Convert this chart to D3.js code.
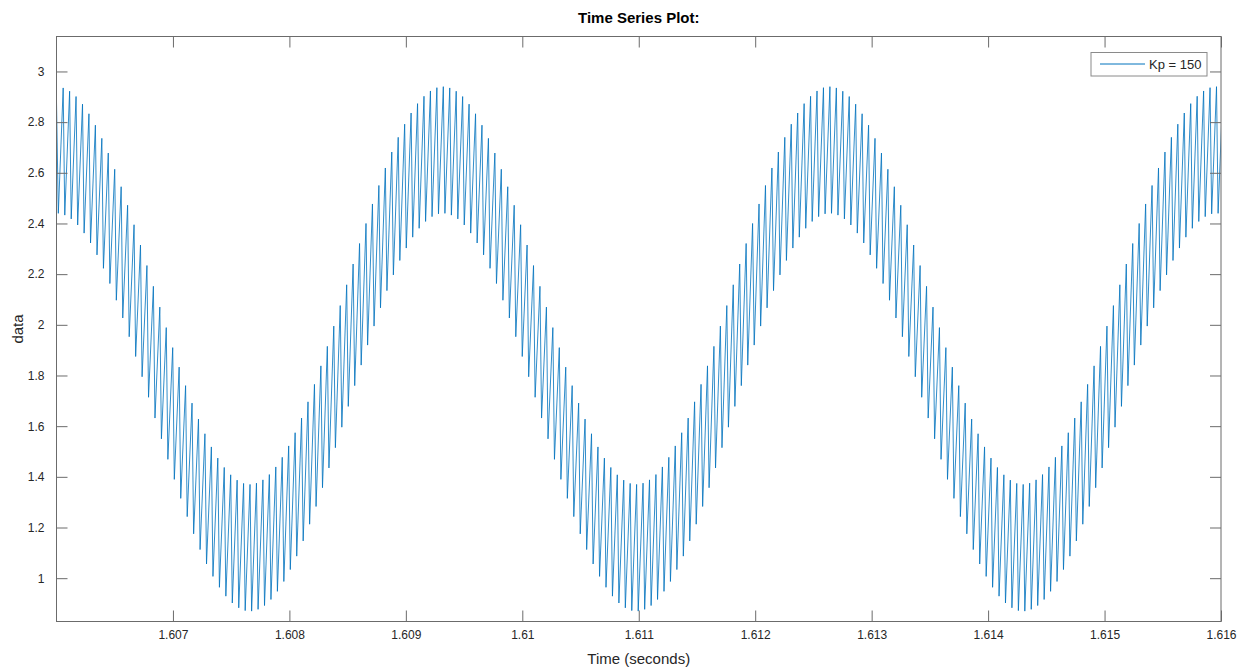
<!DOCTYPE html>
<html>
<head>
<meta charset="utf-8">
<script src="https://cdn.jsdelivr.net/npm/d3@7"></script>
<style>
  body { margin: 0; background: #fff; }
  svg { display: block; font-family: "Liberation Sans", Arial, sans-serif; }
</style>
</head>
<body>
<div id="chart"></div>
<script>
// Time base of the recorded series (seconds)
const startTime = 1.606;
const startValue = 2.88;
const firstTroughTime = 1.6060157;
const cyclePeriod = 5.533e-5;
const riseTime = 4.16e-5;

// Trough values, one per fast cycle
const troughValues = [
  2.440,
  2.433, 2.418, 2.394, 2.362, 2.323, 2.276, 2.223, 2.163, 2.097, 2.027,
  1.953, 1.875, 1.795, 1.714, 1.632, 1.550, 1.469, 1.390, 1.315, 1.243,
  1.175, 1.113, 1.056, 1.007, 0.964, 0.929, 0.902, 0.883, 0.872, 0.870,
  0.877, 0.892, 0.916, 0.948, 0.987, 1.034, 1.087, 1.147, 1.213, 1.283,
  1.357, 1.435, 1.515, 1.596, 1.678, 1.760, 1.841, 1.920, 1.995, 2.067,
  2.135, 2.197, 2.254, 2.303, 2.346, 2.381, 2.408, 2.427, 2.438, 2.440,
  2.433, 2.418, 2.394, 2.362, 2.323, 2.276, 2.223, 2.163, 2.097, 2.027,
  1.953, 1.875, 1.795, 1.714, 1.632, 1.550, 1.469, 1.390, 1.315, 1.243,
  1.175, 1.113, 1.056, 1.007, 0.964, 0.929, 0.902, 0.883, 0.872, 0.870,
  0.877, 0.892, 0.916, 0.948, 0.987, 1.034, 1.087, 1.147, 1.213, 1.283,
  1.357, 1.435, 1.515, 1.596, 1.678, 1.760, 1.841, 1.920, 1.995, 2.067,
  2.135, 2.197, 2.254, 2.303, 2.346, 2.381, 2.408, 2.427, 2.438, 2.440,
  2.433, 2.418, 2.394, 2.362, 2.323, 2.276, 2.223, 2.163, 2.097, 2.027,
  1.953, 1.875, 1.795, 1.714, 1.632, 1.550, 1.469, 1.390, 1.315, 1.243,
  1.175, 1.113, 1.056, 1.007, 0.964, 0.929, 0.902, 0.883, 0.872, 0.870,
  0.877, 0.892, 0.916, 0.948, 0.987, 1.034, 1.087, 1.147, 1.213, 1.283,
  1.357, 1.435, 1.515, 1.596, 1.678, 1.760, 1.841, 1.920, 1.995, 2.067,
  2.135, 2.197, 2.254, 2.303, 2.346, 2.381, 2.408, 2.427, 2.438, 2.440
];

// Peak values, one per fast cycle
const peakValues = [
  2.935, 2.922, 2.901, 2.871, 2.833, 2.788, 2.736, 2.678, 2.614, 2.545,
  2.472, 2.395, 2.315, 2.234, 2.152, 2.070, 1.989, 1.910, 1.833, 1.760,
  1.691, 1.628, 1.570, 1.518, 1.474, 1.437, 1.408, 1.387, 1.374, 1.370,
  1.375, 1.388, 1.409, 1.439, 1.477, 1.522, 1.574, 1.632, 1.696, 1.765,
  1.838, 1.915, 1.995, 2.076, 2.158, 2.240, 2.321, 2.400, 2.477, 2.550,
  2.619, 2.682, 2.740, 2.792, 2.836, 2.873, 2.902, 2.923, 2.936, 2.940,
  2.935, 2.922, 2.901, 2.871, 2.833, 2.788, 2.736, 2.678, 2.614, 2.545,
  2.472, 2.395, 2.315, 2.234, 2.152, 2.070, 1.989, 1.910, 1.833, 1.760,
  1.691, 1.628, 1.570, 1.518, 1.474, 1.437, 1.408, 1.387, 1.374, 1.370,
  1.375, 1.388, 1.409, 1.439, 1.477, 1.522, 1.574, 1.632, 1.696, 1.765,
  1.838, 1.915, 1.995, 2.076, 2.158, 2.240, 2.321, 2.400, 2.477, 2.550,
  2.619, 2.682, 2.740, 2.792, 2.836, 2.873, 2.902, 2.923, 2.936, 2.940,
  2.935, 2.922, 2.901, 2.871, 2.833, 2.788, 2.736, 2.678, 2.614, 2.545,
  2.472, 2.395, 2.315, 2.234, 2.152, 2.070, 1.989, 1.910, 1.833, 1.760,
  1.691, 1.628, 1.570, 1.518, 1.474, 1.437, 1.408, 1.387, 1.374, 1.370,
  1.375, 1.388, 1.409, 1.439, 1.477, 1.522, 1.574, 1.632, 1.696, 1.765,
  1.838, 1.915, 1.995, 2.076, 2.158, 2.240, 2.321, 2.400, 2.477, 2.550,
  2.619, 2.682, 2.740, 2.792, 2.836, 2.873, 2.902, 2.923, 2.936, 2.940,
  2.935
];

const xTicks = [1.607, 1.608, 1.609, 1.610, 1.611, 1.612, 1.613, 1.614, 1.615, 1.616];
const xTickLabels = ["1.607", "1.608", "1.609", "1.61", "1.611", "1.612", "1.613", "1.614", "1.615", "1.616"];
const yTicks = [1, 1.2, 1.4, 1.6, 1.8, 2, 2.2, 2.4, 2.6, 2.8, 3];
const yTickLabels = ["1", "1.2", "1.4", "1.6", "1.8", "2", "2.2", "2.4", "2.6", "2.8", "3"];
const seriesName = "Kp = 150";

// Chart dimensions
const width = 1240;
const height = 668;
const marginTop = 36.5;
const marginRight = 19;
const marginBottom = 46.5;
const marginLeft = 56.5;
const tick = 11;
const axisColor = "#6b6b6b";
const textColor = "#262626";
const lineColor = "#0072BD";

// Build the vertex list: trough, then peak, for each cycle
const points = [[startTime, startValue]];
troughValues.forEach((v, i) => {
  const t = firstTroughTime + i * cyclePeriod;
  points.push([t, v]);
  if (i < peakValues.length) points.push([t + riseTime, peakValues[i]]);
});

const svg = d3.select("#chart")
  .append("svg")
  .attr("width", width)
  .attr("height", height);

const x = d3.scaleLinear()
  .domain([1.606, 1.616])
  .range([marginLeft, width - marginRight]);

const y = d3.scaleLinear()
  .domain([0.829, 3.138])
  .range([height - marginBottom, marginTop]);

svg.append("defs").append("clipPath")
  .attr("id", "plot-clip")
  .append("rect")
  .attr("x", marginLeft)
  .attr("y", marginTop)
  .attr("width", width - marginLeft - marginRight)
  .attr("height", height - marginTop - marginBottom);

// Series line
svg.append("path")
  .datum(points)
  .attr("clip-path", "url(#plot-clip)")
  .attr("fill", "none")
  .attr("stroke", lineColor)
  .attr("stroke-width", 0.9)
  .attr("stroke-opacity", 0.9)
  .attr("d", d3.line().x(d => x(d[0])).y(d => y(d[1])));

function styleAxis(g) {
  g.select(".domain").remove();
  g.selectAll(".tick line").attr("stroke", axisColor);
  g.selectAll(".tick text")
    .attr("fill", textColor)
    .style("font-size", "12px");
}

// Axes (ticks point inward, box on)
svg.append("g")
  .attr("transform", `translate(0,${height - marginBottom})`)
  .call(d3.axisBottom(x).tickValues(xTicks)
    .tickFormat((d, i) => xTickLabels[i])
    .tickSizeInner(-tick).tickSizeOuter(0).tickPadding(9))
  .call(styleAxis);

svg.append("g")
  .attr("transform", `translate(0,${marginTop})`)
  .call(d3.axisTop(x).tickValues(xTicks).tickFormat("")
    .tickSizeInner(-tick).tickSizeOuter(0))
  .call(styleAxis);

svg.append("g")
  .attr("transform", `translate(${marginLeft},0)`)
  .call(d3.axisLeft(y).tickValues(yTicks)
    .tickFormat((d, i) => yTickLabels[i])
    .tickSizeInner(-tick).tickSizeOuter(0).tickPadding(12))
  .call(styleAxis);

svg.append("g")
  .attr("transform", `translate(${width - marginRight},0)`)
  .call(d3.axisRight(y).tickValues(yTicks).tickFormat("")
    .tickSizeInner(-tick).tickSizeOuter(0))
  .call(styleAxis);

// Frame
svg.append("rect")
  .attr("x", marginLeft)
  .attr("y", marginTop)
  .attr("width", width - marginLeft - marginRight)
  .attr("height", height - marginTop - marginBottom)
  .attr("fill", "none")
  .attr("stroke", axisColor);

// Title and axis labels
svg.append("text")
  .attr("x", (marginLeft + width - marginRight) / 2)
  .attr("y", 23)
  .attr("text-anchor", "middle")
  .attr("fill", "#000")
  .style("font-size", "15px")
  .style("font-weight", "bold")
  .text("Time Series Plot:");

svg.append("text")
  .attr("x", (marginLeft + width - marginRight) / 2)
  .attr("y", 664)
  .attr("text-anchor", "middle")
  .attr("fill", textColor)
  .style("font-size", "15px")
  .text("Time (seconds)");

svg.append("text")
  .attr("transform", `translate(23,${(marginTop + height - marginBottom) / 2}) rotate(-90)`)
  .attr("text-anchor", "middle")
  .attr("fill", textColor)
  .style("font-size", "15px")
  .text("data");

// Legend
const legend = svg.append("g").attr("transform", "translate(1091,52.5)");
legend.append("rect")
  .attr("width", 116)
  .attr("height", 23.5)
  .attr("fill", "#fff")
  .attr("stroke", "#8a8a8a");
legend.append("line")
  .attr("x1", 9).attr("x2", 54)
  .attr("y1", 11.5).attr("y2", 11.5)
  .attr("stroke", lineColor)
  .attr("stroke-width", 1);
legend.append("text")
  .attr("x", 58)
  .attr("y", 16.5)
  .attr("fill", textColor)
  .style("font-size", "13px")
  .text(seriesName);
</script>
</body>
</html>
